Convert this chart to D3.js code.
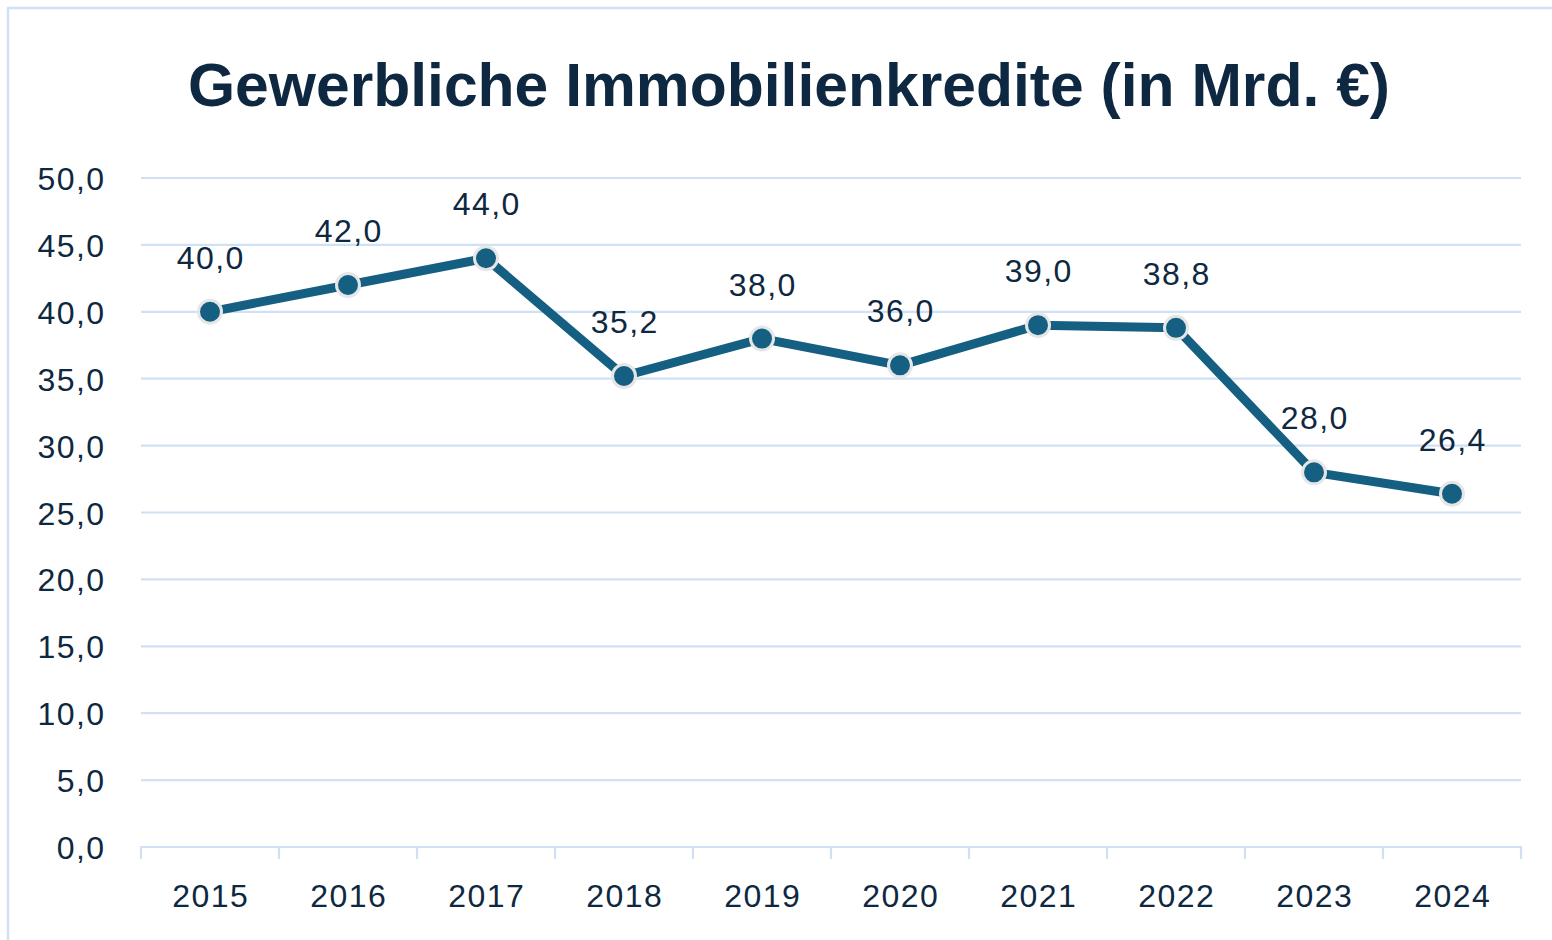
<!DOCTYPE html>
<html>
<head>
<meta charset="utf-8">
<script src="https://cdn.jsdelivr.net/npm/d3@7"></script>
<style>
  html, body { margin: 0; padding: 0; background: #fff; }
  svg { display: block; }
</style>
</head>
<body>
<svg id="chart" width="1552" height="940"></svg>
<script>
const title = "Gewerbliche Immobilienkredite (in Mrd. €)";
const years = ["2015","2016","2017","2018","2019","2020","2021","2022","2023","2024"];
const values = [40.0, 42.0, 44.0, 35.2, 38.0, 36.0, 39.0, 38.8, 28.0, 26.4];
const yTicks = [0, 5, 10, 15, 20, 25, 30, 35, 40, 45, 50];

const W = 1552, H = 940;
const margin = { left: 141, right: 31, top: 178, bottom: 93 };
const svg = d3.select("#chart");
const textColor = "#0e2841";
const gridColor = "#d0e1f5";
const lineColor = "#156082";
const fmt = v => d3.format(".1f")(v).replace(".", ",");
const font = "'Liberation Sans', Arial, sans-serif";

// outer border
svg.append("rect")
  .attr("x", 8).attr("y", 8)
  .attr("width", W + 20).attr("height", H + 20)
  .attr("fill", "none").attr("stroke", gridColor).attr("stroke-width", 2.5);

const x = d3.scaleBand().domain(years).range([margin.left, W - margin.right]).padding(0);
const y = d3.scaleLinear().domain([0, 50]).range([H - margin.bottom, margin.top]);

// title
svg.append("text")
  .attr("x", 789).attr("y", 106)
  .attr("text-anchor", "middle")
  .attr("font-family", font)
  .attr("font-weight", "bold")
  .attr("font-size", 60.6)
  .attr("fill", textColor)
  .text(title);

// gridlines
svg.append("g").selectAll("line")
  .data(yTicks.filter(d => d > 0))
  .join("line")
  .attr("x1", margin.left).attr("x2", W - margin.right)
  .attr("y1", d => y(d)).attr("y2", d => y(d))
  .attr("stroke", gridColor).attr("stroke-width", 2.2);

// y axis labels
const yAxis = d3.axisLeft(y).tickValues(yTicks).tickFormat(fmt).tickSize(0).tickPadding(0);
const gy = svg.append("g").attr("transform", `translate(${105.5},0)`).call(yAxis);
gy.select(".domain").remove();
gy.selectAll("text")
  .attr("font-family", font)
  .attr("font-size", 32)
  .attr("letter-spacing", 1.4)
  .attr("fill", textColor)
  .attr("dy", "0.36em");

// x axis baseline + ticks at band boundaries
const baseY = y(0);
svg.append("line")
  .attr("x1", margin.left).attr("x2", W - margin.right)
  .attr("y1", baseY).attr("y2", baseY)
  .attr("stroke", gridColor).attr("stroke-width", 2.2);
const bounds = years.map(d => x(d)).concat([x(years[years.length - 1]) + x.bandwidth()]);
svg.append("g").selectAll("line")
  .data(bounds)
  .join("line")
  .attr("x1", d => d).attr("x2", d => d)
  .attr("y1", baseY - 1).attr("y2", baseY + 12)
  .attr("stroke", gridColor).attr("stroke-width", 2.2);

// x labels
const xAxis = d3.axisBottom(x).tickSize(0).tickPadding(0);
const gx = svg.append("g").attr("transform", `translate(0.7,${907})`).call(xAxis);
gx.select(".domain").remove();
gx.selectAll("text")
  .attr("font-family", font)
  .attr("font-size", 32)
  .attr("letter-spacing", 1.4)
  .attr("fill", textColor)
  .attr("dy", 0);

const cx = d => x(d) + x.bandwidth() / 2;
const pts = years.map((d, i) => ({ year: d, v: values[i] }));

// line
svg.append("path")
  .datum(pts)
  .attr("d", d3.line().x(d => cx(d.year)).y(d => y(d.v)))
  .attr("fill", "none")
  .attr("stroke", lineColor)
  .attr("stroke-width", 9)
  .attr("stroke-linejoin", "round");

// markers
svg.append("g").selectAll("circle")
  .data(pts)
  .join("circle")
  .attr("cx", d => cx(d.year)).attr("cy", d => y(d.v))
  .attr("r", 11.5)
  .attr("fill", lineColor)
  .attr("stroke", "#e6e6e6")
  .attr("stroke-width", 3);

// data labels
svg.append("g").selectAll("text")
  .data(pts)
  .join("text")
  .attr("x", d => cx(d.year) + 0.7)
  .attr("y", d => y(d.v) - 43)
  .attr("text-anchor", "middle")
  .attr("font-family", font)
  .attr("font-size", 32)
  .attr("letter-spacing", 1.4)
  .attr("fill", textColor)
  .text(d => fmt(d.v));
</script>
</body>
</html>
